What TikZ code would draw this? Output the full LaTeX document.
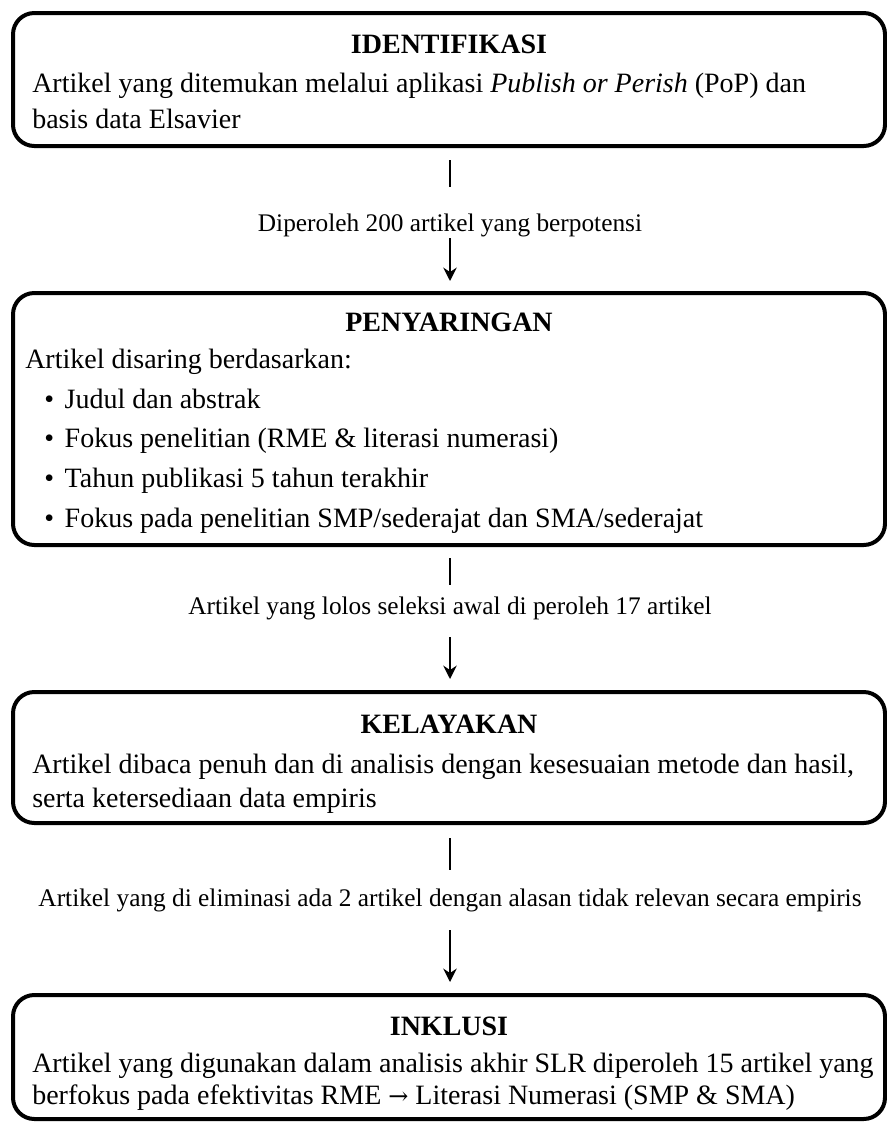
\documentclass[tikz,border=0pt]{standalone}
\usepackage{fontspec}
\setmainfont{Liberation Serif}
\newfontfamily\arrowfont{DejaVu Serif}
\usetikzlibrary{arrows.meta,fit}
\begin{document}
\begin{tikzpicture}[x=0.75pt,y=-0.75pt,
  box/.style={draw, line width=3pt, rounded corners=16pt, inner sep=0pt},
  ttl/.style={font=\fontsize{21}{25}\selectfont\bfseries, anchor=base, inner sep=0pt},
  txt/.style={font=\fontsize{21}{25}\selectfont, anchor=base west, inner sep=0pt},
  lbl/.style={font=\fontsize{19}{23}\selectfont, inner sep=0pt},
  conn/.style={line width=1.8pt},
  arr/.style={line width=1.8pt, -{Stealth[length=10pt,width=10pt]}}]
\useasboundingbox (0,0) rectangle (887,1122);

% Box 1
\coordinate (b1tl) at (13,13);
\coordinate (b1br) at (885,146);
\node[box, fit=(b1tl)(b1br)] (b1) {};
\node[ttl] (t1) at (449,53) {IDENTIFIKASI};
\node[txt] (t1a) at (32,92) {Artikel yang ditemukan melalui aplikasi \textit{Publish or Perish} (PoP) dan};
\node[txt] (t1b) at (32,128) {basis data Elsavier};

% Connector 1
\coordinate (c1a) at (450,160);
\coordinate (c1b) at (450,187);
\node[lbl] (l1) at (450,225) {Diperoleh 200 artikel yang berpotensi};
\coordinate (c1c) at (450,238);
\coordinate (c1d) at (450,281);

% Box 2
\coordinate (b2tl) at (13,293);
\coordinate (b2br) at (885,545);
\node[box, fit=(b2tl)(b2br)] (b2) {};
\node[ttl] (t2) at (449,331) {PENYARINGAN};
\node[txt] (t2a) at (25,368) {Artikel disaring berdasarkan:};
\node[txt] (t2b) at (44,408) {\textbullet\hspace{8pt}Judul dan abstrak};
\node[txt] (t2c) at (44,447) {\textbullet\hspace{8pt}Fokus penelitian (RME \& literasi numerasi)};
\node[txt] (t2d) at (44,487) {\textbullet\hspace{8pt}Tahun publikasi 5 tahun terakhir};
\node[txt] (t2e) at (44,527) {\textbullet\hspace{8pt}Fokus pada penelitian SMP/sederajat dan SMA/sederajat};

% Connector 2
\coordinate (c2a) at (450,558);
\coordinate (c2b) at (450,585);
\node[lbl] (l2) at (450,608) {Artikel yang lolos seleksi awal di peroleh 17 artikel};
\coordinate (c2c) at (450,637);
\coordinate (c2d) at (450,679);

% Box 3
\coordinate (b3tl) at (13,692);
\coordinate (b3br) at (885,823);
\node[box, fit=(b3tl)(b3br)] (b3) {};
\node[ttl] (t3) at (449,733) {KELAYAKAN};
\node[txt] (t3a) at (32,773) {Artikel dibaca penuh dan di analisis dengan kesesuaian metode dan hasil,};
\node[txt] (t3b) at (32,807) {serta ketersediaan data empiris};

% Connector 3
\coordinate (c3a) at (450,838);
\coordinate (c3b) at (450,870);
\node[lbl] (l3) at (450,900) {Artikel yang di eliminasi ada 2 artikel dengan alasan tidak relevan secara empiris};
\coordinate (c3c) at (450,930);
\coordinate (c3d) at (450,982);

% Box 4
\coordinate (b4tl) at (13,995);
\coordinate (b4br) at (885,1119);
\node[box, fit=(b4tl)(b4br)] (b4) {};
\node[ttl] (t4) at (449,1035) {INKLUSI};
\node[txt] (t4a) at (32,1072) {Artikel yang digunakan dalam analisis akhir SLR diperoleh 15 artikel yang};
\node[txt] (t4b) at (32,1104) {berfokus pada efektivitas RME {\arrowfont\fontsize{18}{22}\selectfont →} Literasi Numerasi (SMP \& SMA)};

\draw[conn] (c1a) -- (c1b);
\draw[arr] (c1c) -- (c1d);
\draw[conn] (c2a) -- (c2b);
\draw[arr] (c2c) -- (c2d);
\draw[conn] (c3a) -- (c3b);
\draw[arr] (c3c) -- (c3d);
\end{tikzpicture}
\end{document}
